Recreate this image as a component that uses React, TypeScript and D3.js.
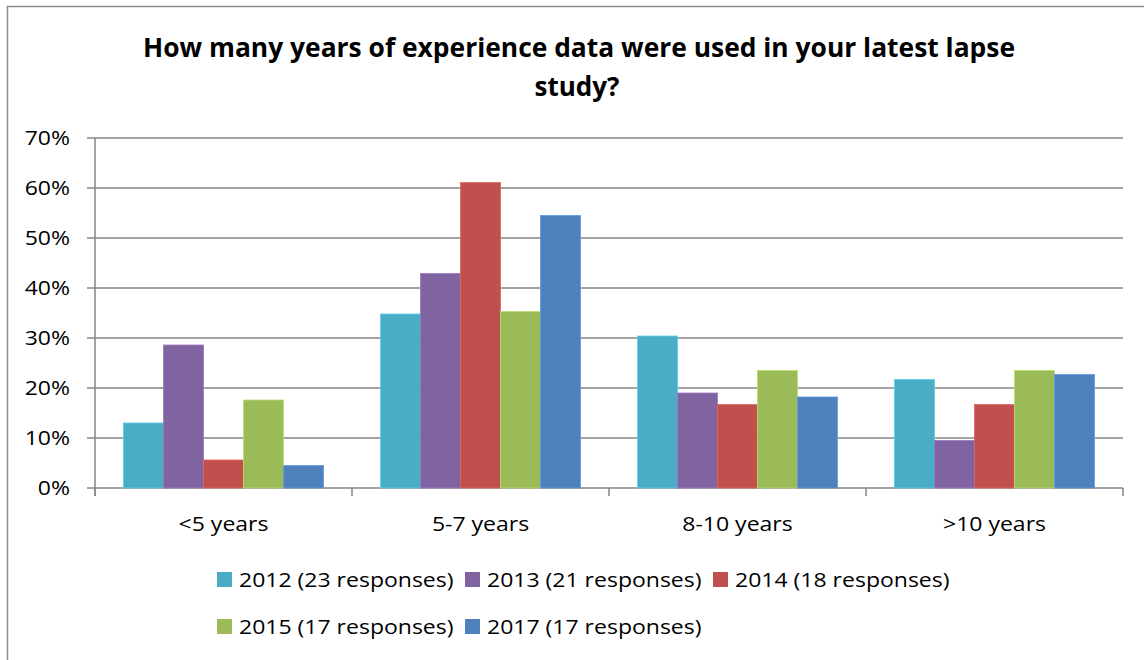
import React, { useEffect, useRef } from "react";
import * as d3 from "d3";

const categories = ["<5 years", "5-7 years", "8-10 years", ">10 years"];
const seriesNames = [
  "2012 (23 responses)",
  "2013 (21 responses)",
  "2014 (18 responses)",
  "2015 (17 responses)",
  "2017 (17 responses)",
];
const v2012 = [13.0, 34.8, 30.4, 21.7];
const v2013 = [28.6, 42.9, 19.0, 9.5];
const v2014 = [5.6, 61.1, 16.7, 16.7];
const v2015 = [17.6, 35.3, 23.5, 23.5];
const v2017 = [4.5, 54.5, 18.2, 22.7];
const yTicks = [0, 10, 20, 30, 40, 50, 60, 70];
const colors = ["#4BACC6", "#8064A2", "#C0504D", "#9BBB59", "#4F81BD"];

const FONT = "'Open Sans', 'Noto Sans', sans-serif";

type Sel = d3.Selection<any, any, any, any>;

function addText(
  parent: Sel,
  x: number,
  y: number,
  text: string,
  opts: { size: number; weight?: string; anchor?: string; k: number }
) {
  return parent
    .append("text")
    .attr("transform", `translate(${x},${y}) scale(${opts.k},1)`)
    .attr("text-anchor", opts.anchor || "start")
    .attr("font-family", FONT)
    .attr("font-weight", opts.weight || "normal")
    .attr("font-size", opts.size)
    .attr("fill", "#000")
    .text(text);
}

export default function App() {
  const ref = useRef<SVGSVGElement>(null);
  useEffect(() => {
    const svg = d3.select(ref.current);
    svg.selectAll("*").remove();
    const values = [v2012, v2013, v2014, v2015, v2017];

    const left = 95, right = 1123, top = 138, bottom = 488;
    const K = 1.18;
    const SZ = 19.5;

    svg.append("rect").attr("x", 7.5).attr("y", 6.5).attr("width", 1160).attr("height", 680)
      .attr("fill", "#fff").attr("stroke", "#8c8c8c").attr("stroke-width", 1.5);

    addText(svg, 579, 57, "How many years of experience data were used in your latest lapse", { size: 26, weight: "bold", anchor: "middle", k: 1.016 });
    addText(svg, 577, 96, "study?", { size: 26, weight: "bold", anchor: "middle", k: 1 });

    const x0 = d3.scaleBand<string>().domain(categories).range([left, right]).paddingInner(0).paddingOuter(0);
    const x1 = d3.scaleBand<number>().domain(d3.range(5)).range([0, x0.bandwidth()]).paddingOuter(0.7125).paddingInner(0);
    const y = d3.scaleLinear().domain([0, 70]).range([bottom, top]);

    svg.append("g").selectAll("line").data(yTicks).join("line")
      .attr("x1", left - 8).attr("x2", right).attr("y1", (d) => y(d)).attr("y2", (d) => y(d))
      .attr("stroke", "#868686").attr("stroke-width", 1.5);
    svg.append("line").attr("x1", left).attr("x2", left).attr("y1", top).attr("y2", bottom + 8)
      .attr("stroke", "#868686").attr("stroke-width", 1.5);
    const yl = svg.append("g");
    yTicks.forEach((d) => addText(yl, 70, y(d) + 7, d + "%", { size: SZ, anchor: "end", k: K }));

    const edges = categories.map((c) => x0(c)!).concat([right]);
    svg.append("g").selectAll("line").data(edges).join("line")
      .attr("x1", (d) => d).attr("x2", (d) => d).attr("y1", bottom).attr("y2", bottom + 8)
      .attr("stroke", "#868686").attr("stroke-width", 1.5);

    const g = svg.append("g");
    values.forEach((vals, si) => {
      g.append("g").selectAll("rect").data(vals).join("rect")
        .attr("x", (d, i) => x0(categories[i])! + x1(si)!)
        .attr("width", x1.bandwidth())
        .attr("y", (d) => y(d))
        .attr("height", (d) => bottom - y(d))
        .attr("fill", colors[si])
        .attr("stroke", d3.color(colors[si])!.brighter(0.5).toString())
        .attr("stroke-width", 0.8);
    });

    const cl = svg.append("g");
    categories.forEach((c) => addText(cl, x0(c)! + x0.bandwidth() / 2, 531, c, { size: SZ, anchor: "middle", k: K }));

    const legendPos = [[217, 587], [465, 587], [713, 587], [217, 634], [465, 634]];
    const lg = svg.append("g");
    seriesNames.forEach((name, i) => {
      const [lx, ly] = legendPos[i];
      lg.append("rect").attr("x", lx).attr("y", ly - 15).attr("width", 15).attr("height", 15).attr("fill", colors[i]);
      addText(lg, lx + 22, ly, name, { size: SZ, k: K });
    });
  }, []);
  return (
    <svg ref={ref} width={1144} height={660} style={{ position: "absolute", left: 0, top: 0 }} />
  );
}
